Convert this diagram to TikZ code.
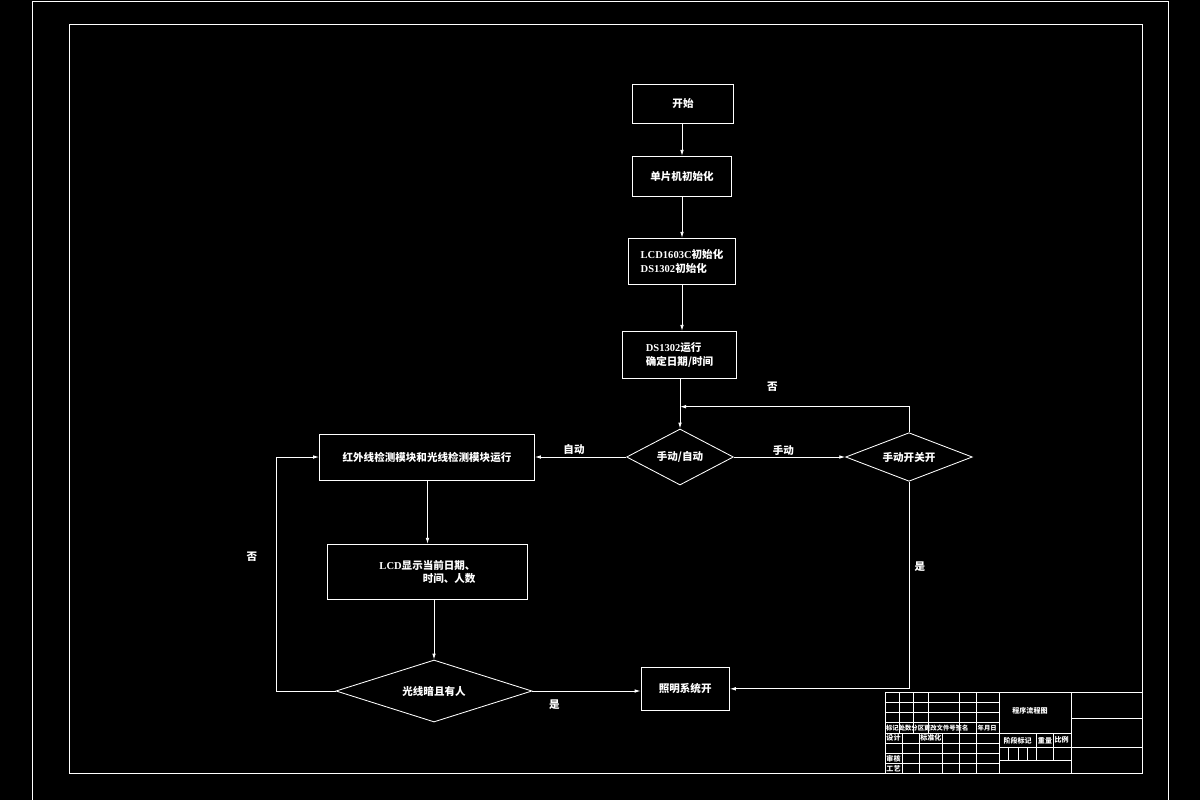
\documentclass[tikz,border=0pt]{standalone}
\usepackage{fontspec}
\setmainfont{Noto Sans CJK SC}
\newfontfamily\latinfont{Liberation Serif}
\usetikzlibrary{arrows.meta, shapes.geometric}

\begin{document}
\begin{tikzpicture}[x=0.25mm, y=-0.25mm, line width=0.6pt,
  box/.style={draw=white, text=white, inner sep=0pt,
    font=\fontsize{7.5}{9.6}\selectfont\bfseries},
  decision/.style={diamond, aspect=2.5, draw=white, text=white, inner sep=0pt,
    font=\fontsize{7.5}{9.6}\selectfont\bfseries},
  flow/.style={draw=white, -{Latex[length=1.5mm, width=0.9mm]}},
  tag/.style={text=white, font=\fontsize{7.5}{9.6}\selectfont\bfseries},
  cell/.style={text=white, inner sep=0pt, font=\fontsize{5}{6}\selectfont\bfseries}]

  % Sheet: black paper, 1200 by 800 units, y running downwards.
  \fill[black] (0,0) rectangle (1200,800);
  \useasboundingbox (0,0) rectangle (1200,800);

  % Drawing frames.
  \draw[white] (32.3,800) -- (32.3,1.3) -- (1168.3,1.3) -- (1168.3,800);
  \draw[white] (69.3,24.3) rectangle (1142.3,773.3);

  % Main chain, top to bottom.
  \node[box, minimum width=25.35mm, minimum height=9.75mm] (start) at (683,103.8) {开始};
  \node[box, minimum width=24.85mm, minimum height=10.1mm] (mcu) at (682,176.5) {单片机初始化};
  \node[box, minimum width=26.85mm, minimum height=11.5mm, align=left] (lcdinit) at (682,261.3)
    {{\latinfont LCD1603C}初始化\\{\latinfont DS1302}初始化};
  \node[box, minimum width=28.6mm, minimum height=11.75mm, align=left] (rtc) at (679.5,354.8)
    {{\latinfont DS1302}运行\\确定日期/时间};
  \node[decision, minimum width=26.7mm, minimum height=14mm] (mode) at (680,457) {手动/自动};
  \node[decision, minimum width=31.65mm, minimum height=12.15mm] (manual) at (909,457) {手动开关开};

  % Automatic branch.
  \node[box, minimum width=53.75mm, minimum height=11.5mm] (run) at (427,457)
    {红外线检测模块和光线检测模块运行};
  \node[box, minimum width=50.1mm, minimum height=13.75mm, align=right] (show) at (427.5,571.8)
    {{\latinfont LCD}显示当前日期、\\时间、人数};
  \node[decision, minimum width=49mm, minimum height=15.5mm] (dark) at (434,691) {光线暗且有人};
  \node[box, minimum width=22.1mm, minimum height=10.75mm] (light) at (685.2,688.8) {照明系统开};

  \coordinate (merge) at (680,406.7);

  % Connectors.
  \draw[flow] (start.south -| mcu.north) -- (mcu.north);
  \draw[flow] (mcu) -- (lcdinit);
  \draw[flow] (lcdinit.south) -- (lcdinit.south |- rtc.north);
  \draw[flow] (rtc.south -| mode.north) -- (mode.north);
  \draw[flow] (manual.north) |- (merge);
  \draw[flow] (mode.east) -- (manual.west);
  \draw[flow] (mode.west) -- (run.east);
  \draw[flow] (run.south -| show.north) -- (show.north);
  \draw[flow] (show.south -| dark.north) -- (dark.north);
  \draw[flow] (dark.east) -- (dark.east -| light.west);
  \draw[flow] (manual.south) |- (light.east);
  \draw[flow] (dark.west) -- ++(-58.7,0) |- (run.west);

  % Branch labels.
  \node[tag] (noback) at (772.3,386.7) {否};
  \node[tag] (autolbl) at (574,449) {自动};
  \node[tag] (manlbl) at (783.3,450) {手动};
  \node[tag] (yesman) at (920,567) {是};
  \node[tag] (yesdark) at (554.3,705) {是};
  \node[tag] (nodark) at (252,557) {否};

  % Title block.
  \draw[white] (885,692.3) -- (1142.3,692.3);
  \draw[white] (885,692.3) -- (885,773.3);
  \foreach \y in {702.3,712.3,722.7,733.3,743.3,753.3,763.3}
    \draw[white] (885,\y) -- (999.3,\y);
  \foreach \x in {899.3,913.3,928.3}
    \draw[white] (\x,692.3) -- (\x,733.3);
  \foreach \x in {902.7,919.3,942.3}
    \draw[white] (\x,733.3) -- (\x,773.3);
  \foreach \x in {959.3,976.7,999.3,1071.3}
    \draw[white] (\x,692.3) -- (\x,773.3);
  \draw[white] (999.3,733.3) -- (1071.3,733.3);
  \draw[white] (999.3,747.3) -- (1142.3,747.3);
  \draw[white] (999.3,760.3) -- (1071.3,760.3);
  \draw[white] (1071.3,718.3) -- (1142.3,718.3);
  \foreach \x in {1036,1053.3}
    \draw[white] (\x,733.3) -- (\x,760.3);
  \foreach \x in {1008.3,1018,1027.3}
    \draw[white] (\x,747.3) -- (\x,760.3);

  \node[cell, anchor=west, font=\fontsize{4.5}{5}\selectfont\bfseries] (marks) at (885.7,728)
    {标记处数分区更改文件号签名};
  \node[cell, anchor=west, font=\fontsize{4.5}{5}\selectfont\bfseries] (datecell) at (977.3,728) {年月日};
  \node[cell] (design) at (893.5,738.3) {设计};
  \node[cell] (stdcell) at (930.8,738.3) {标准化};
  \node[cell] (review) at (893.5,758.3) {审核};
  \node[cell] (process) at (893.5,768.3) {工艺};
  \node[cell] (title) at (1030,710.7) {程序流程图};
  \node[cell] (stage) at (1017.7,740.3) {阶段标记};
  \node[cell] (weight) at (1045,740.3) {重量};
  \node[cell] (ratio) at (1061.7,740.3) {比例};

\end{tikzpicture}
\end{document}
